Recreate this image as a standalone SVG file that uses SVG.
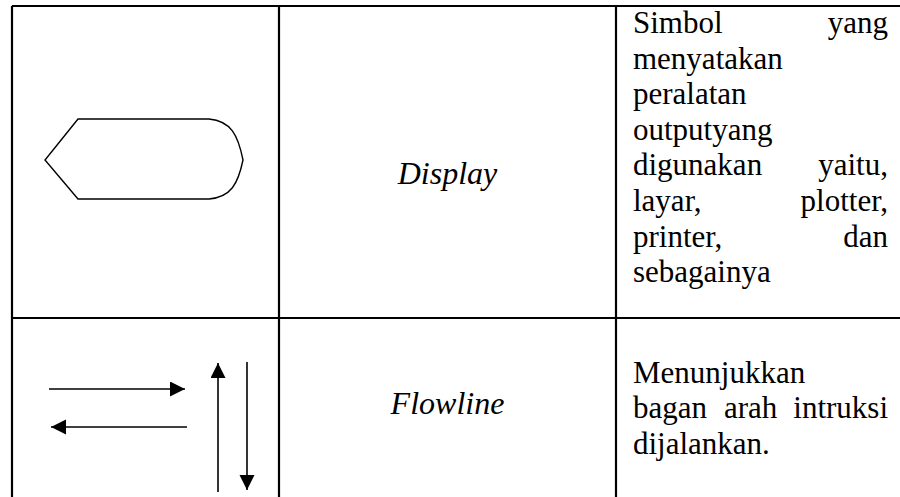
<svg xmlns="http://www.w3.org/2000/svg" width="900" height="497" viewBox="0 0 900 497">
<style>
.grid{stroke:#000;stroke-width:2.2;fill:none}
.sym{stroke:#000;stroke-width:1.4;fill:none}
.flow{stroke:#000;stroke-width:1.6;fill:none}
text{font-family:'Liberation Serif','Times New Roman',Times,serif;font-size:31px;fill:#000}
.i{font-style:italic;font-size:32px}
</style>
<defs>
<marker id="ah" markerUnits="userSpaceOnUse" markerWidth="16" markerHeight="16" refX="15" refY="7.5" orient="auto">
<path d="M0,0 L15,7.5 L0,15 Z" fill="#000"/>
</marker>
</defs>
<rect width="900" height="497" fill="#fff"/>
<g id="table">
<path class="grid" d="M12,6 H900 M12,318 H900 M12,6 V497 M279,6 V497 M616,6 V497"/>
</g>
<g id="display-symbol">
<path class="sym" d="M78,119 H209 C231,121 238,135 243,160 C238,184 231,197 209,199 H78 L45,160 Z"/>
</g>
<g id="connectors">
<line class="flow" x1="49" y1="389" x2="185" y2="389" marker-end="url(#ah)"/>
<line class="flow" x1="187" y1="427" x2="51" y2="427" marker-end="url(#ah)"/>
<line class="flow" x1="218" y1="492" x2="218" y2="363" marker-end="url(#ah)"/>
<line class="flow" x1="247" y1="362" x2="247" y2="490" marker-end="url(#ah)"/>
</g>
<g id="display-label">
<text class="i" x="447.5" y="184" text-anchor="middle">Display</text>
</g>
<g id="flowline-label">
<text class="i" x="447.5" y="414" text-anchor="middle">Flowline</text>
</g>
<g id="display-desc">
<text x="633" y="33">Simbol</text><text x="888" y="33" text-anchor="end">yang</text>
<text x="633" y="68.6">menyatakan</text>
<text x="633" y="104.2">peralatan</text>
<text x="633" y="139.8">outputyang</text>
<text x="633" y="175.4">digunakan</text><text x="888" y="175.4" text-anchor="end">yaitu,</text>
<text x="633" y="211">layar,</text><text x="888" y="211" text-anchor="end">plotter,</text>
<text x="633" y="246.6">printer,</text><text x="888" y="246.6" text-anchor="end">dan</text>
<text x="633" y="282.2">sebagainya</text>
</g>
<g id="flowline-desc">
<text x="633" y="382.5">Menunjukkan</text>
<text x="633" y="418">bagan</text><text x="724" y="418">arah</text><text x="888" y="418" text-anchor="end">intruksi</text>
<text x="633" y="453.5">dijalankan.</text>
</g>
</svg>
